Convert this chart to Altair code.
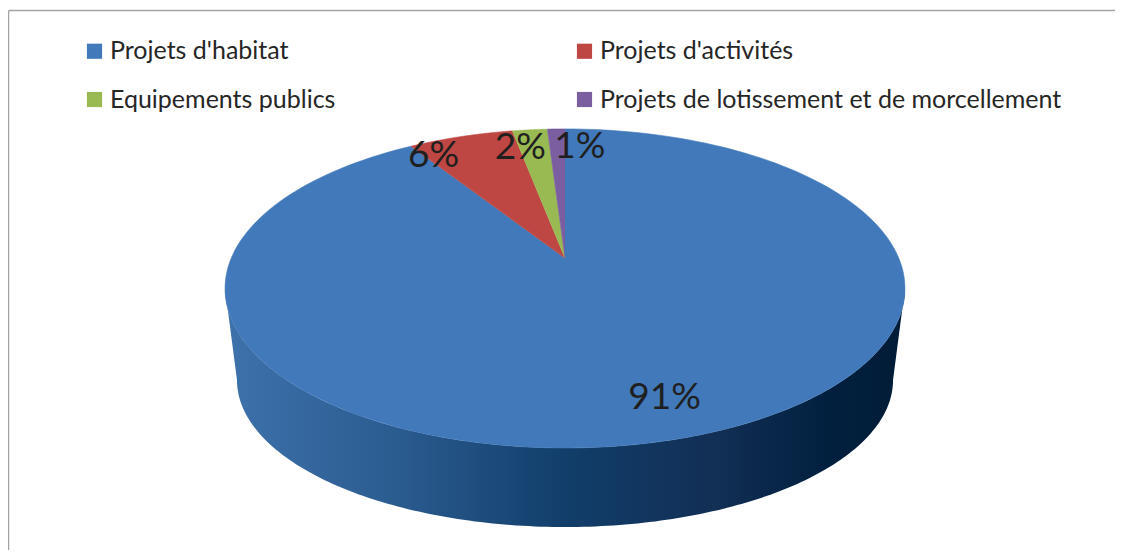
import altair as alt
import pandas as pd

# ---- data ----
categories = ["Projets d'habitat", "Projets d'activités", "Equipements publics",
              "Projets de lotissement et de morcellement"]
values = [91, 6, 2, 1]
labels = ["91%", "6%", "2%", "1%"]

# ---- style ----
colors = ["#4179BA", "#BE4643", "#99BA53", "#7B5EA0"]
color_of = dict(zip(categories, colors))
# Vega fills legend columns top-to-bottom: order so rows read like the reference
legend_order = [categories[0], categories[2], categories[1], categories[3]]
OX, OY = 8, 8                  # plot origin on the page
W, H = 1123 - 8 - OX, 558 - 8 - OY
CX = 565 - OX                  # horizontal centre of the pie
APEX_Y = 258 - OY              # projected centre of the top face
A, B, P = 333.7, 153.7, 0.191  # perspective projection of the top rim
AB, BB, CB = 322.0, 141.6, 344.0  # perspective projection of the bottom rim
PHI = "acos(-0.191)"           # silhouette angle of the side wall
CY, RX, RY = 288 - OY, 340, 160   # label placement ellipse
NPTS = 180
LABEL_NUDGE = {"Projets de lotissement et de morcellement": 26}

df = pd.DataFrame({"cat": categories, "value": values, "label": labels,
                   "k": list(range(len(categories)))})

xs = alt.Scale(domain=[0, W], nice=False, zero=False)
ys = alt.Scale(domain=[0, H], nice=False, zero=False, reverse=True)

base = (
    alt.Chart(df)
    .transform_joinaggregate(total="sum(value)")
    .transform_window(cum="sum(value)", sort=[alt.SortField("k")], frame=[None, 0])
    .transform_calculate(a0="2*PI*(datum.cum - datum.value)/datum.total")
    .transform_calculate(a1="2*PI*datum.cum/datum.total")
)

# side wall (front part of the pie, extruded)
grad = alt.Gradient(
    gradient="linear", x1=0, x2=1, y1=0, y2=0,
    stops=[
        alt.GradientStop(offset=0.0, color="#3E72AC"),
        alt.GradientStop(offset=0.25, color="#2B5C90"),
        alt.GradientStop(offset=0.5, color="#113E6A"),
        alt.GradientStop(offset=0.72, color="#122F55"),
        alt.GradientStop(offset=0.88, color="#02203F"),
        alt.GradientStop(offset=1.0, color="#011C36"),
    ],
)
side = (
    base.transform_calculate(lo=f"max(datum.a0, {PHI})")
    .transform_calculate(hi=f"min(datum.a1, 2*PI - {PHI})")
    .transform_filter("datum.hi > datum.lo")
    .transform_calculate(seq=f"sequence(0, {2 * NPTS + 2})")
    .transform_flatten(["seq"])
    .transform_calculate(
        t=f"datum.seq <= {NPTS} ? datum.lo + (datum.hi - datum.lo)*datum.seq/{NPTS}"
          f" : datum.hi - (datum.hi - datum.lo)*(datum.seq - {NPTS + 1})/{NPTS}")
    .transform_calculate(d=f"1 + {P}*cos(datum.t)")
    .transform_calculate(
        sx=f"datum.seq <= {NPTS} ? {CX} + {A}*sin(datum.t)/datum.d : {CX} + {AB}*sin(datum.t)/datum.d")
    .transform_calculate(
        sy=f"datum.seq <= {NPTS} ? {APEX_Y} - {B}*cos(datum.t)/datum.d : {CB} - {BB}*cos(datum.t)/datum.d")
    .mark_line(fill=grad, strokeOpacity=0, strokeWidth=0)
    .encode(
        x=alt.X("sx:Q", scale=xs, axis=None),
        y=alt.Y("sy:Q", scale=ys, axis=None),
        order="seq:Q",
        detail="cat:N",
    )
)

# top face slices
top = (
    base.transform_calculate(seq=f"sequence(0, {NPTS + 1})")
    .transform_flatten(["seq"])
    .transform_calculate(t=f"datum.a0 + (datum.a1 - datum.a0)*(datum.seq - 1)/{NPTS - 1}")
    .transform_calculate(d=f"1 + {P}*cos(datum.t)")
    .transform_calculate(px=f"datum.seq == 0 ? {CX} : {CX} + {A}*sin(datum.t)/datum.d")
    .transform_calculate(py=f"datum.seq == 0 ? {APEX_Y} : {APEX_Y} - {B}*cos(datum.t)/datum.d")
    .mark_line(strokeWidth=0.6, strokeJoin="round")
    .encode(
        x=alt.X("px:Q", scale=xs, axis=None),
        y=alt.Y("py:Q", scale=ys, axis=None),
        order="seq:Q",
        fill=alt.Fill(
            "cat:N",
            scale=alt.Scale(domain=legend_order, range=[color_of[c] for c in legend_order]),
            legend=alt.Legend(
                title=None, orient="none", legendX=82 - OX, legendY=38.5 - OY,
                columns=2, gridAlign="all", columnPadding=0, rowPadding=22.5,
                symbolType="square", symbolSize=230, symbolStrokeWidth=0,
                labelFont="Lato", labelFontSize=25, labelColor="#262626",
                labelOffset=3, labelLimit=0, padding=0,
            ),
        ),
        stroke=alt.Stroke("cat:N",
                          scale=alt.Scale(domain=legend_order, range=[color_of[c] for c in legend_order]),
                          legend=None),
    )
)

nudge_expr = " : ".join(
    [f"datum.cat == {repr(c)} ? {v}" for c, v in LABEL_NUDGE.items()] + ["0"]
)
lab = (
    base.transform_calculate(mid="(datum.a0 + datum.a1)/2")
    .transform_calculate(nx=nudge_expr)
    .transform_calculate(lx=f"{CX} + 1.05*{RX}*sin(datum.mid) + datum.nx")
    .transform_calculate(ly=f"{CY} - 0.8*{RY}*cos(datum.mid) - 13")
    .mark_text(font="Lato", fontSize=37, color="#1F1F1F", baseline="middle", align="center")
    .encode(
        x=alt.X("lx:Q", scale=xs, axis=None),
        y=alt.Y("ly:Q", scale=ys, axis=None),
        text="label:N",
    )
)

frame_src = alt.Chart(pd.DataFrame({"z": [0]}))
frame_top = frame_src.mark_rule(color="#A3A3A3", strokeWidth=1.3).encode(
    x=alt.value(0.6), x2=alt.value(W + 20), y=alt.value(10.5 - OY)
)
frame_left = frame_src.mark_rule(color="#A3A3A3", strokeWidth=1.3).encode(
    x=alt.value(0.6), y=alt.value(10.5 - OY), y2=alt.value(H + 20)
)

chart = (
    alt.layer(side, top, lab, frame_top, frame_left)
    .properties(width=W, height=H, autosize=alt.AutoSizeParams(type="none"),
                padding={"left": 0, "top": 0, "right": 0, "bottom": 0})
    .configure_view(stroke=None)
)

chart.save("out.html", embed_options={"renderer": "svg", "actions": False})
